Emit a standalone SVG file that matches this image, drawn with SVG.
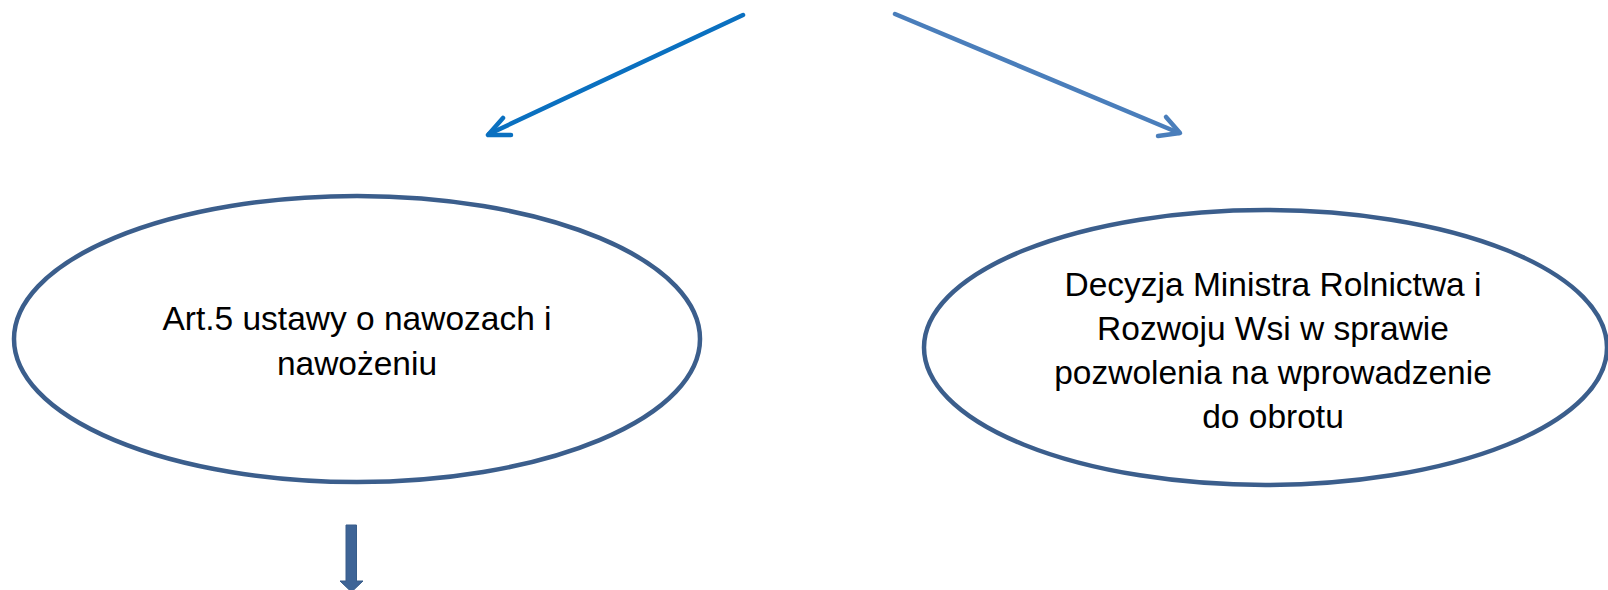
<svg xmlns="http://www.w3.org/2000/svg" width="1608" height="590" viewBox="0 0 1608 590">
  <style>
    .node ellipse { fill: #ffffff; stroke: #3b5e8c; stroke-width: 4.5; }
    .label { font-family: "Liberation Sans", "Open Sans", sans-serif; font-size: 33.5px; fill: #000000; text-anchor: middle; }
    .conn { fill: none; stroke-width: 4.5; stroke-linecap: round; stroke-linejoin: round; }
  </style>
  <rect width="1608" height="590" fill="#ffffff"/>

  <g id="connectors">
    <!-- left branch -->
    <g stroke="#0a70c0" class="conn">
      <line x1="743" y1="15" x2="489" y2="134"/>
      <polyline points="503,118 488,135 511,135"/>
    </g>
    <!-- right branch -->
    <g stroke="#4a7ebb" class="conn">
      <line x1="895" y1="14" x2="1179" y2="133"/>
      <polyline points="1166,117 1180,133 1158,136"/>
    </g>
    <!-- block arrow below the left node -->
    <path d="M346,525 H356.5 V581 H363 L351.5,592 L340,581 H346 Z" fill="#3e6496" stroke="#385d8a" stroke-width="1"/>
  </g>

  <g id="node-art5" class="node">
    <ellipse cx="357" cy="339" rx="343" ry="143"/>
    <text class="label" x="357" y="330">Art.5 ustawy o nawozach i</text>
    <text class="label" x="357" y="375">nawożeniu</text>
  </g>

  <g id="node-decyzja" class="node">
    <ellipse cx="1265.5" cy="347.5" rx="341.5" ry="137.5"/>
    <text class="label" x="1273" y="296">Decyzja Ministra Rolnictwa i</text>
    <text class="label" x="1273" y="340">Rozwoju Wsi w sprawie</text>
    <text class="label" x="1273" y="384">pozwolenia na wprowadzenie</text>
    <text class="label" x="1273" y="428">do obrotu</text>
  </g>
</svg>
